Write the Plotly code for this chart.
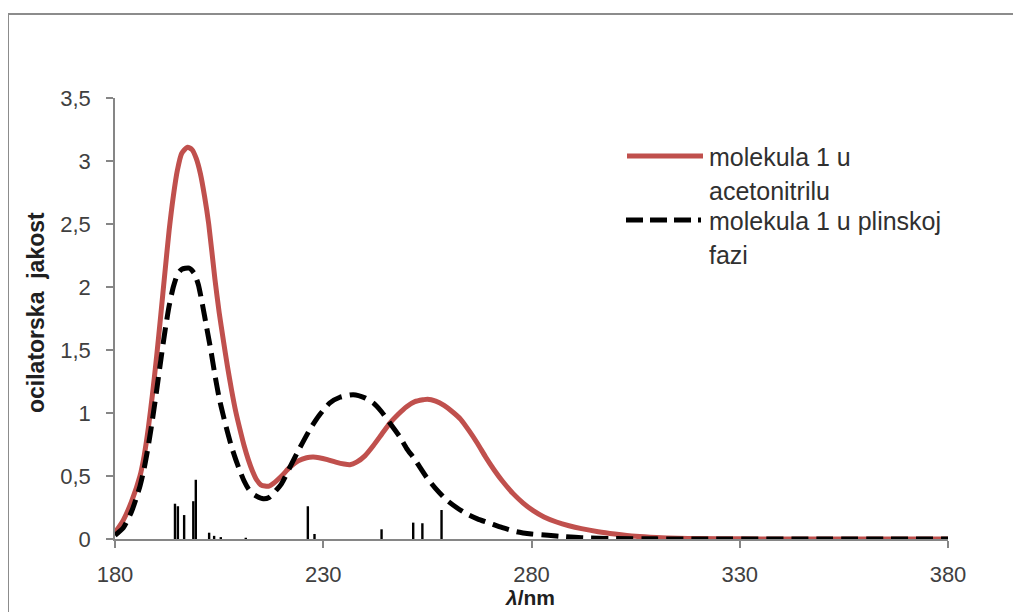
import plotly.graph_objects as go

# --- data ---
acn_wl = [180, 182, 184, 186, 187, 188, 189, 190, 191, 192, 193, 194, 195, 196, 197.4,
          198.5, 199.5, 200.5, 201.5, 202.5, 204, 205, 206, 207, 208, 209, 210, 211, 212, 213, 214,
          215, 216, 217, 218, 220, 222, 224, 226, 227.6, 229, 231, 233, 235, 236.4, 238,
          240, 242, 244, 246, 248, 250, 252, 254, 255, 257, 259, 261, 263, 265, 267, 269,
          271, 273, 275.6, 278, 280.4, 283, 286, 289, 292, 296, 300, 305, 310, 315, 320,
          330, 340, 360, 380]
acn_f = [0.05, 0.15, 0.30, 0.50, 0.66, 0.88, 1.15, 1.45, 1.78, 2.12, 2.45, 2.72, 2.93, 3.06, 3.11,
         3.09, 3.02, 2.90, 2.72, 2.50, 2.06, 1.80, 1.58, 1.37, 1.18, 1.01, 0.87, 0.74, 0.63, 0.54, 0.47,
         0.43, 0.42, 0.42, 0.44, 0.50, 0.57, 0.62, 0.645, 0.65, 0.645, 0.63, 0.61, 0.595, 0.59, 0.61,
         0.66, 0.74, 0.83, 0.92, 0.99, 1.05, 1.09, 1.105, 1.11, 1.095, 1.06, 1.01, 0.95, 0.86, 0.76, 0.65,
         0.55, 0.46, 0.36, 0.285, 0.225, 0.175, 0.135, 0.105, 0.082, 0.058, 0.04, 0.022, 0.012, 0.006, 0.003,
         0.001, 0.0, 0.0, 0.0]

gas_wl = [180, 182, 184, 186, 187, 188, 189, 190, 191, 192, 193, 194, 195, 196, 197.8,
          199, 200, 201, 202, 203, 204, 205, 206, 207, 208, 209, 210, 211, 212, 213, 214,
          215.6, 217, 218, 220, 222, 224, 226.8, 229, 231.6, 234, 237.2, 240, 242, 244, 246,
          248.4, 250, 252, 254.8, 257, 259.6, 262, 264.4, 267, 270, 273, 276.4, 280, 284,
          288, 292, 300, 310, 320, 350, 380]
gas_f = [0.03, 0.09, 0.22, 0.42, 0.56, 0.74, 0.95, 1.18, 1.42, 1.65, 1.85, 2.00, 2.10, 2.14, 2.15,
         2.11, 2.02, 1.86, 1.68, 1.50, 1.30, 1.12, 0.98, 0.85, 0.73, 0.63, 0.54, 0.46, 0.40, 0.36, 0.34,
         0.32, 0.33, 0.36, 0.44, 0.57, 0.70, 0.87, 0.98, 1.08, 1.125, 1.145, 1.12, 1.08, 1.01, 0.92,
         0.81, 0.72, 0.63, 0.49, 0.40, 0.31, 0.25, 0.20, 0.16, 0.125, 0.09, 0.058, 0.04, 0.03,
         0.018, 0.01, 0.004, 0.001, 0.0, 0.0, 0.0]

stick_wl = [194.4, 195.1, 196.6, 198.8, 199.4, 202.6, 203.8, 205.4, 211.4,
            226.3, 227.9, 244.0, 251.6, 253.8, 258.4]
stick_f = [0.28, 0.26, 0.19, 0.30, 0.47, 0.05, 0.025, 0.015, 0.01,
           0.26, 0.04, 0.077, 0.13, 0.125, 0.23]

y_ticks = [0, 0.5, 1, 1.5, 2, 2.5, 3, 3.5]
x_ticks = [180, 230, 280, 330, 380]

legend_lines_acn = ["molekula 1 u", "acetonitrilu"]
legend_lines_gas = ["molekula 1 u plinskoj", "fazi"]
x_title = "<b><i>λ</i>/nm</b>"
y_title = "<b>ocilatorska  jakost</b>"

RED = "#C0504D"
FONT = "Liberation Sans"

# stick spectrum as vertical segments
sx, sy = [], []
for w, f in zip(stick_wl, stick_f):
    sx += [w, w, None]
    sy += [0, f, None]

fig = go.Figure()
fig.add_trace(go.Scatter(x=sx, y=sy, mode="lines", line=dict(color="black", width=2.4),
                         showlegend=False, hoverinfo="skip"))
fig.add_trace(go.Scatter(x=acn_wl, y=acn_f, mode="lines", name=" ".join(legend_lines_acn),
                         line=dict(color=RED, width=5, shape="spline", smoothing=0.6),
                         showlegend=False))
fig.add_trace(go.Scatter(x=gas_wl, y=gas_f, mode="lines", name=" ".join(legend_lines_gas),
                         line=dict(color="black", width=5, dash="17px,8px", shape="spline", smoothing=0.6),
                         showlegend=False))

axis_col = "#868686"
fig.update_xaxes(range=[180, 380], tickvals=x_ticks, ticktext=[str(t) for t in x_ticks],
                 showline=True, linecolor=axis_col, linewidth=1.5, ticks="outside",
                 ticklen=7, tickcolor=axis_col, tickwidth=1.5, showgrid=False, zeroline=False,
                 ticklabelstandoff=8, automargin=False,
                 tickfont=dict(family=FONT, size=22, color="#404040"))
fig.update_yaxes(range=[0, 3.5], tickvals=y_ticks,
                 showline=True, linecolor=axis_col, linewidth=1.5, ticks="outside",
                 ticklen=7, tickcolor=axis_col, tickwidth=1.5, showgrid=False, zeroline=False,
                 ticklabelstandoff=11, automargin=False,
                 tickfont=dict(family=FONT, size=22, color="#404040"))

# layout geometry (page has an 8px body margin)
W, H = 1013, 604
L, R, T, B = 107, 73, 90, 73
PL, PR, PT, PB = 115, 948, 98, 539   # plot area in page pixels
def px(x):
    return (x - PL) / (PR - PL)
def py(y):
    return (PB - y) / (PB - PT)

shapes = [
    dict(type="line", xref="paper", yref="paper", x0=px(627), x1=px(703), y0=py(156), y1=py(156),
         line=dict(color=RED, width=5)),
    dict(type="line", xref="paper", yref="paper", x0=px(626), x1=px(701), y0=py(220), y1=py(220),
         line=dict(color="black", width=5, dash="17px,7px")),
    dict(type="rect", xref="paper", yref="paper", x0=px(8), x1=px(1040), y0=py(14), y1=py(660),
         line=dict(color="#8c8c8c", width=2), fillcolor="rgba(0,0,0,0)"),
]
ann = []
for txt, yy in zip(legend_lines_acn + legend_lines_gas, [157, 191, 221, 255]):
    ann.append(dict(text=txt, xref="paper", yref="paper", x=px(707), y=py(yy), xanchor="left",
                    yanchor="middle", showarrow=False, font=dict(family=FONT, size=25, color="#303030")))
ann.append(dict(text=x_title, xref="paper", yref="paper", x=px(530), y=py(597), xanchor="center",
                yanchor="middle", showarrow=False, font=dict(family=FONT, size=21, color="#202020")))
ann.append(dict(text=y_title, xref="paper", yref="paper", x=px(36), y=py(313), xanchor="center",
                yanchor="middle", textangle=-90, showarrow=False,
                font=dict(family=FONT, size=23, color="#202020")))

fig.update_layout(width=W, height=H, margin=dict(l=L, r=R, t=T, b=B), autosize=False,
                  paper_bgcolor="white", plot_bgcolor="white", separators=", ",
                  shapes=shapes, annotations=ann, showlegend=False)

fig.write_html("out.html")
